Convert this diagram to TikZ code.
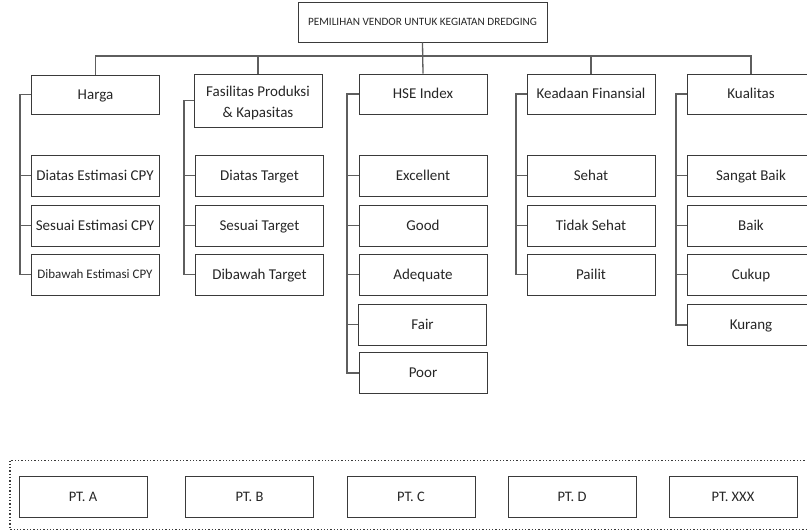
\documentclass[tikz,border=0pt]{standalone}
\usepackage{fontspec}
\setmainfont{Carlito}
\definecolor{boxc}{HTML}{3A3A3A}
\definecolor{linec}{HTML}{5E5E5E}
\definecolor{txtc}{HTML}{262626}
\begin{document}
\begin{tikzpicture}[x=1pt,y=-1pt,
  box/.style={draw=boxc,line width=0.9pt,minimum width=128pt,minimum height=40pt,inner sep=1pt,
    text=txtc,font=\fontsize{15}{21}\selectfont,align=center,text height=11pt,text depth=1.3pt},
  ptbox/.style={box,font=\fontsize{14.5}{17}\selectfont,minimum height=41pt,text height=10.5pt,text depth=1.2pt},
  conn/.style={draw=linec,line width=1.3pt}]
\useasboundingbox (0,0) rectangle (807,531);
% top
\node[box,minimum width=249pt,minimum height=40pt,font=\fontsize{11.2}{13}\selectfont,text height=8pt,text depth=0.9pt] (top) at (422.5,22) {PEMILIHAN VENDOR UNTUK KEGIATAN DREDGING};
% level 1
\node[box,minimum height=39pt] (harga) at (95.5,94.5) {Harga};
\node[box,minimum height=53pt,text height=36pt,text depth=1.3pt] (fas) at (258,100.5) {Fasilitas Produksi\\\& Kapasitas};
\node[box,minimum height=40pt] (hse) at (423,94) {HSE Index};
\node[box,minimum height=40pt] (keu) at (591,94) {Keadaan Finansial};
\node[box,minimum height=40pt] (kual) at (751,94) {Kualitas};
% children
\node[box,minimum height=41pt] (h1) at (95,175.5) {Diatas Estimasi CPY};
\node[box,minimum height=41pt] (h2) at (95,225.5) {Sesuai Estimasi CPY};
\node[box,minimum height=41pt,font=\fontsize{13}{15}\selectfont,text height=10pt,text depth=1.6pt] (h3) at (95,274.5) {Dibawah Estimasi CPY};
\node[box,minimum height=41pt] (f1) at (259.5,175.5) {Diatas Target};
\node[box,minimum height=41pt] (f2) at (259.5,225.5) {Sesuai Target};
\node[box,minimum height=41pt] (f3) at (259.5,274.5) {Dibawah Target};
\node[box,minimum height=41pt] (s1) at (423,175.5) {Excellent};
\node[box,minimum height=41pt] (s2) at (423,225.5) {Good};
\node[box,minimum height=41pt] (s3) at (423,274.5) {Adequate};
\node[box,minimum height=41pt] (s4) at (422.5,324.5) {Fair};
\node[box,minimum height=41pt] (s5) at (423,373) {Poor};
\node[box,minimum height=41pt] (k1) at (591,175.5) {Sehat};
\node[box,minimum height=41pt] (k2) at (591,225.5) {Tidak Sehat};
\node[box,minimum height=41pt] (k3) at (591,274.5) {Pailit};
\node[box,minimum height=41pt] (q1) at (751,175.5) {Sangat Baik};
\node[box,minimum height=41pt] (q2) at (751,225.5) {Baik};
\node[box,minimum height=41pt] (q3) at (751,274.5) {Cukup};
\node[box,minimum height=41pt] (q4) at (751,325) {Kurang};
% bus
\coordinate (bus) at (0,56);
\draw[conn] (top.south) -- (hse.north);
\draw[conn] (harga.north) -- (harga.north |- bus) -- (kual.north |- bus) -- (kual.north);
\draw[conn] (fas.north) -- (fas.north |- bus);
\draw[conn] (keu.north) -- (keu.north |- bus);
% rails
\coordinate (rh) at (20,0);
\coordinate (rf) at (184,0);
\coordinate (rs) at (347,0);
\coordinate (rk) at (516,0);
\coordinate (rq) at (676,0);
\draw[conn] (harga.west) -- (harga.west -| rh) -- (h3.west -| rh) -- (h3.west);
\draw[conn] (h1.west -| rh) -- (h1.west);
\draw[conn] (h2.west -| rh) -- (h2.west);
\draw[conn] (fas.west) -- (fas.west -| rf) -- (f3.west -| rf) -- (f3.west);
\draw[conn] (f1.west -| rf) -- (f1.west);
\draw[conn] (f2.west -| rf) -- (f2.west);
\draw[conn] (hse.west) -- (hse.west -| rs) -- (s5.west -| rs) -- (s5.west);
\draw[conn] (s1.west -| rs) -- (s1.west);
\draw[conn] (s2.west -| rs) -- (s2.west);
\draw[conn] (s3.west -| rs) -- (s3.west);
\draw[conn] (s4.west -| rs) -- (s4.west);
\draw[conn] (keu.west) -- (keu.west -| rk) -- (k3.west -| rk) -- (k3.west);
\draw[conn] (k1.west -| rk) -- (k1.west);
\draw[conn] (k2.west -| rk) -- (k2.west);
\draw[conn] (kual.west) -- (kual.west -| rq) -- (q4.west -| rq) -- (q4.west);
\draw[conn] (q1.west -| rq) -- (q1.west);
\draw[conn] (q2.west -| rq) -- (q2.west);
\draw[conn] (q3.west -| rq) -- (q3.west);
% vendors
\draw[draw=boxc,line width=1.3pt,dotted] (10,460.5) rectangle (830,529.5);
\node[ptbox] (pa) at (83,496.5) {PT. A};
\node[ptbox] (pb) at (249.5,496.5) {PT. B};
\node[ptbox] (pc) at (411,496.5) {PT. C};
\node[ptbox] (pd) at (572,496.5) {PT. D};
\node[ptbox] (px) at (733,496.5) {PT. XXX};
\end{tikzpicture}
\end{document}
